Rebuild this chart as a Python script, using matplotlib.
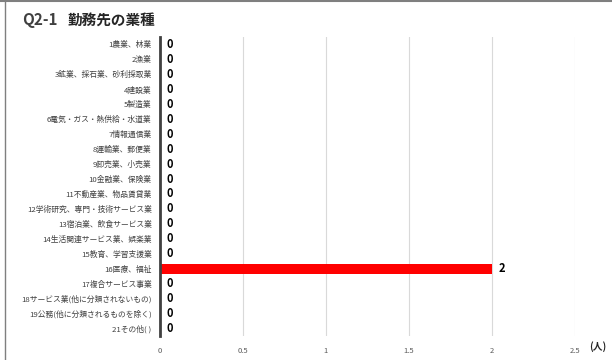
import matplotlib
matplotlib.use("Agg")
import matplotlib.pyplot as plt

plt.rcParams['font.family'] = ['Noto Sans CJK JP', 'DejaVu Sans']

categories = [
    "1農業、林業", "2漁業", "3鉱業、採石業、砂利採取業", "4建設業", "5製造業",
    "6電気・ガス・熱供給・水道業", "7情報通信業", "8運輸業、郵便業", "9卸売業、小売業",
    "10金融業、保険業", "11不動産業、物品賃貸業", "12学術研究、専門・技術サービス業",
    "13宿泊業、飲食サービス業", "14生活関連サービス業、娯楽業", "15教育、学習支援業",
    "16医療、福祉", "17複合サービス事業", "18サービス業(他に分類されないもの)",
    "19公務(他に分類されるものを除く)", "21その他( )",
]
values = [0, 0, 0, 0, 0, 0, 0, 0, 0, 0, 0, 0, 0, 0, 0, 2, 0, 0, 0, 0]
xticks = [0, 0.5, 1, 1.5, 2, 2.5]

fig = plt.figure(figsize=(6.12, 3.6), dpi=100)
ax = fig.add_axes([160 / 612, 1 - 336 / 360, (575 - 160) / 612, (336 - 37) / 360])

y = list(range(len(categories)))
ax.barh(y, values, height=0.68, color="#ff0000", zorder=3)
for yi, v in zip(y, values):
    ax.text(v + 0.04, yi, str(v), va="center", ha="left", fontsize=8,
            fontweight="bold", color="black")

ax.set_ylim(len(categories) - 0.5, -0.5)
ax.set_xlim(0, 2.5)
ax.set_yticks(y)
ax.set_yticklabels(categories, fontsize=5.6, color="#404040")
ax.set_xticks(xticks)
ax.set_xticklabels([str(t) for t in xticks], fontsize=5.5, color="#595959")
ax.tick_params(axis="both", length=0, pad=6)
ax.tick_params(axis="x", pad=8)
ax.grid(axis="x", color="#d9d9d9", linewidth=0.8, zorder=0)
for s in ["top", "right", "bottom"]:
    ax.spines[s].set_visible(False)
ax.spines["left"].set_color("#404040")
ax.spines["left"].set_linewidth(2)
ax.spines["left"].set_zorder(4)

fig.text(22 / 612, 1 - 20 / 360, "Q2-1", fontsize=11, fontweight="bold",
         color="#404040", va="center", ha="left")
fig.text(67 / 612, 1 - 20 / 360, "勤務先の業種", fontsize=10.5, fontweight="bold",
         color="#262626", va="center", ha="left")
fig.text(589 / 612, 1 - 347 / 360, "(人)", fontsize=7, fontweight="bold",
         color="#262626", va="center", ha="left")

# page border
fig.add_artist(plt.Line2D([0, 1], [0.997, 0.997], color="#7f7f7f", linewidth=1.5,
                          transform=fig.transFigure))
fig.add_artist(plt.Line2D([5 / 612, 5 / 612], [0, 1], color="#7f7f7f", linewidth=1,
                          transform=fig.transFigure))

fig.savefig("out.png", dpi=100)
